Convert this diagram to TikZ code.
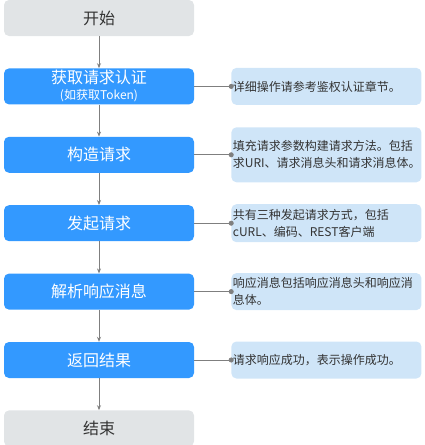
\documentclass[tikz,border=0pt]{standalone}
\usepackage{fontspec}
\setmainfont{Noto Sans CJK SC}
\usetikzlibrary{arrows.meta, positioning}
\definecolor{stepblue}{HTML}{3399FF}
\definecolor{endgray}{HTML}{E1E4E6}
\definecolor{noteblue}{HTML}{CFE5F8}
\definecolor{linegray}{HTML}{7F7F7F}
\definecolor{textdark}{HTML}{333333}
\tikzstyle{terminal} = [rectangle, rounded corners=5pt, minimum width=190pt, minimum height=36pt,
    text centered, fill=endgray, text=textdark, font=\fontsize{16}{18}\selectfont]
\tikzstyle{stepbox} = [rectangle, rounded corners=5pt, minimum width=190pt, minimum height=36pt,
    align=center, fill=stepblue, text=white, font=\fontsize{16}{18}\selectfont]
\tikzstyle{note} = [rectangle, rounded corners=5pt, minimum width=190pt, minimum height=37pt,
    text width=187pt, inner sep=1.5pt, align=left, fill=noteblue, text=textdark,
    font=\fontsize{12}{17}\selectfont]
\tikzstyle{arrow} = [draw=linegray, line width=0.8pt, -{Stealth[length=5pt,width=4pt]}]
\tikzstyle{link} = [draw=linegray, line width=0.8pt, -{Circle[length=5pt]}, shorten >=-2.5pt]

\begin{document}
\begin{tikzpicture}[node distance=32pt and 37pt]
  \useasboundingbox (0pt,0pt) rectangle (424pt,-445pt);
  \node (start) [terminal] at (99pt,-18pt) {开始};
  \node (auth)  [stepbox, below=of start, inner sep=1pt] {获取请求认证\\[-2pt]{\fontsize{12}{14}\selectfont (如获取Token)}};
  \node (build) [stepbox, below=of auth] {构造请求};
  \node (send)  [stepbox, below=of build] {发起请求};
  \node (parse) [stepbox, below=of send] {解析响应消息};
  \node (ret)   [stepbox, below=of parse] {返回结果};
  \node (stop)  [terminal, below=of ret] {结束};

  \node (nauth)  [note, right=of auth] {详细操作请参考鉴权认证章节。};
  \node (nbuild) [note, right=of build, minimum height=55pt] {填充请求参数构建请求方法。包括\\求URI、请求消息头和请求消息体。};
  \node (nsend)  [note, right=of send, minimum height=38pt] {共有三种发起请求方式，包括\\cURL、编码、REST客户端};
  \node (nparse) [note, right=of parse] {响应消息包括响应消息头和响应消\\息体。};
  \node (nret)   [note, right=of ret] {请求响应成功，表示操作成功。};

  \draw[arrow] (start) -- (auth);
  \draw[arrow] (auth)  -- (build);
  \draw[arrow] (build) -- (send);
  \draw[arrow] (send)  -- (parse);
  \draw[arrow] (parse) -- (ret);
  \draw[arrow] (ret)   -- (stop);

  \draw[link] (auth)  -- (nauth);
  \draw[link] (build) -- (nbuild);
  \draw[link] (send)  -- (nsend);
  \draw[link] (parse) -- (nparse);
  \draw[link] (ret)   -- (nret);
\end{tikzpicture}
\end{document}
